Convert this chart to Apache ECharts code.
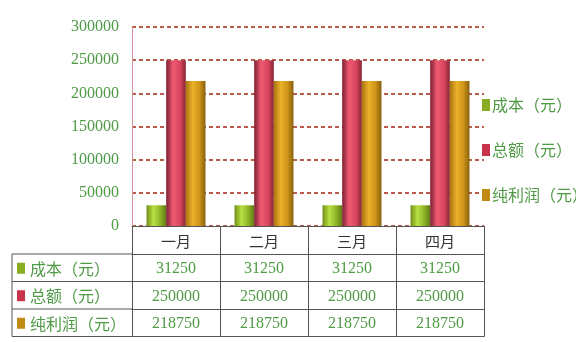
<!DOCTYPE html>
<html><head><meta charset="utf-8">
<script src="https://cdn.jsdelivr.net/npm/echarts@6/dist/echarts.min.js"></script>
<style>html,body{margin:0;padding:0;background:#fff}#c{width:576px;height:342px}</style>
</head><body><div id="c"></div>
<script>
var categories = ['一月', '二月', '三月', '四月'];
var seriesNames = ['成本（元）', '总额（元）', '纯利润（元）'];
var cost = [31250, 31250, 31250, 31250];
var total = [250000, 250000, 250000, 250000];
var profit = [218750, 218750, 218750, 218750];
var yTicks = [0, 50000, 100000, 150000, 200000, 250000, 300000];

var values = [cost, total, profit];
var green = '#4f9a45';
var serif = '"Liberation Serif", "DejaVu Serif", serif';
var cjk = '"Noto Sans CJK SC", sans-serif';
function grad(a, b, c, d) {
  return new echarts.graphic.LinearGradient(0, 0, 1, 0, [
    {offset: 0, color: a}, {offset: 0.35, color: b}, {offset: 0.7, color: c}, {offset: 1, color: d}]);
}
var fills = [
  grad('#6f8f14', '#b9e043', '#8cb526', '#5f7c14'),
  grad('#7e1f30', '#f05a73', '#d9485f', '#8a2434'),
  grad('#a9740c', '#eab12a', '#cf9418', '#87600e')
];
var keyColors = ['#88ad22', '#c8324b', '#c08a14'];

var gridL = 132, gridR = 484, gridT = 27, gridB = 226;
var rowH = 27.5, headH = 28;

var xAxes = [{
  type: 'category', data: categories, gridIndex: 0, position: 'bottom', z: 5,
  axisLine: {show: true, lineStyle: {color: '#555', width: 1}},
  axisTick: {show: true, length: headH, lineStyle: {color: '#555'}},
  axisLabel: {color: '#333', fontFamily: cjk, fontSize: 15, margin: 8},
  splitLine: {show: false}
}];
values.forEach(function (arr, i) {
  xAxes.push({
    type: 'category', data: arr.map(String), gridIndex: 0, position: 'bottom',
    offset: headH + rowH * i,
    axisLine: {show: true, lineStyle: {color: '#555', width: 1}},
    axisTick: {show: true, length: rowH, lineStyle: {color: '#555'}},
    axisLabel: {color: green, fontFamily: serif, fontSize: 16, margin: 7},
    splitLine: {show: false}
  });
});
xAxes.push({
  type: 'category', data: categories, gridIndex: 0, position: 'bottom',
  offset: headH + rowH * 3,
  axisLine: {show: true, lineStyle: {color: '#555', width: 1}},
  axisTick: {show: false}, axisLabel: {show: false}
});

var graphics = [];
var tableTop = gridB + headH;
for (var r = 0; r <= 3; r++) {
  graphics.push({type: 'line', shape: {x1: 12, y1: tableTop + r * rowH, x2: gridL, y2: tableTop + r * rowH},
    style: {stroke: '#555', lineWidth: 1}});
}
graphics.push({type: 'line', shape: {x1: 12, y1: tableTop, x2: 12, y2: tableTop + 3 * rowH}, style: {stroke: '#555', lineWidth: 1}});
seriesNames.forEach(function (n, i) {
  var cy = tableTop + rowH * i + rowH / 2;
  graphics.push({type: 'rect', shape: {x: 17, y: cy - 5, width: 8, height: 11}, style: {fill: keyColors[i]}});
  graphics.push({type: 'text', style: {x: 30, y: cy + 1, text: n, fill: green, font: '16px ' + cjk, textVerticalAlign: 'middle'}});
});

var option = {
  animation: false,
  backgroundColor: '#fff',
  grid: {left: gridL, right: 576 - gridR, top: gridT, bottom: 342 - gridB, containLabel: false},
  legend: {
    orient: 'vertical', left: 477, top: 92, itemGap: 29, itemWidth: 8, itemHeight: 12,
    icon: 'rect',
    data: seriesNames.map(function (n, i) { return {name: n, itemStyle: {color: keyColors[i]}}; }),
    textStyle: {color: green, fontFamily: cjk, fontSize: 16, padding: [0, 0, 0, -3]}
  },
  xAxis: xAxes,
  yAxis: {
    type: 'value', min: yTicks[0], max: yTicks[yTicks.length - 1], interval: yTicks[1] - yTicks[0],
    axisLine: {show: true, lineStyle: {color: '#d8909c', width: 1}},
    axisTick: {show: false},
    axisLabel: {color: green, fontFamily: serif, fontSize: 16, margin: 13,
      formatter: function (v) { return String(v); }},
    splitLine: {show: true, lineStyle: {color: '#a3280f', type: [4, 3], width: 1.6}}
  },
  series: values.map(function (arr, i) {
    return {
      name: seriesNames[i], type: 'bar', data: arr, xAxisIndex: 0,
      barGap: '0%', barCategoryGap: '33%',
      itemStyle: {color: fills[i]}
    };
  }),
  graphic: graphics
};
var chart = echarts.init(document.getElementById('c'));
chart.setOption(option);
</script></body></html>
